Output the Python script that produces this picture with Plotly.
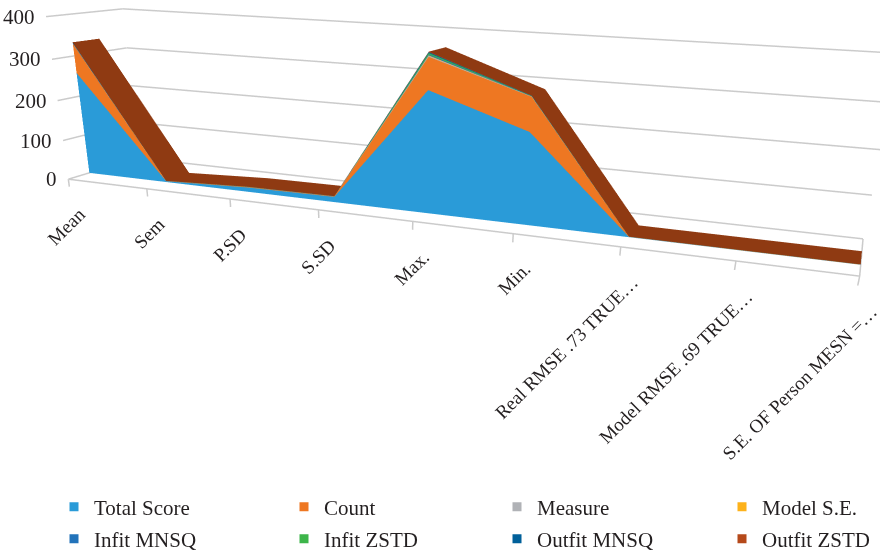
import plotly.graph_objects as go

categories = ["Mean", "Sem", "P.SD", "S.SD", "Max.", "Min.",
              "Real RMSE .73 TRUE…", "Model RMSE .69 TRUE…", "S.E. OF Person MESN =…"]
z_ticks = [0, 100, 200, 300, 400]

total_score = [258, 2, 11, 13, 284, 211, 0.5, 0.3, 0.2]
count = [72, 0.5, 1, 1, 72, 76, 0.2, 0.2, 0.2]
measure = [0.5, 0.2, 0.2, 0.2, 2, 0.5, 0.1, 0.1, 0.1]
model_se = [0.3, 0.1, 0.1, 0.1, 1, 0.3, 0.1, 0.1, 0.1]
infit_mnsq = [1, 0.1, 0.2, 0.2, 2, 0.5, 0.1, 0.1, 0.1]
infit_zstd = [0.2, 0.1, 0.2, 0.2, 3, 0.5, 0.1, 0.1, 0.1]
outfit_mnsq = [1, 0.1, 0.2, 0.2, 2, 0.5, 0.1, 0.1, 0.1]
outfit_zstd = [0.2, 0.1, 0.2, 0.2, 1, 0.5, 0.1, 0.1, 0.1]

series = [("Total Score", total_score, "#2a9bd8"), ("Count", count, "#ee7722"),
          ("Measure", measure, "#b0b2b6"), ("Model S.E.", model_se, "#fdb21b"),
          ("Infit MNSQ", infit_mnsq, "#2273ba"), ("Infit ZSTD", infit_zstd, "#3db54a"),
          ("Outfit MNSQ", outfit_mnsq, "#00609a"), ("Outfit ZSTD", outfit_zstd, "#b5491a")]

W, H = 880, 860
Y_FRONT, Y_BACK = 0.28, 0.63
TICK_DROP = -20
TOP_COLOR = "#8f3a12"
GRID = "#cbcbcb"
FONT = "Liberation Serif"
TEXT = "#231f20"
LIGHT = dict(ambient=1, diffuse=0, specular=0, fresnel=0, roughness=1)
LEG_X = [70, 300, 513, 738]
LEG_Y = [507, 539]
n = len(categories)
xs = list(range(n))
x_max = n - 1

def strip_mesh(ya, za, yb, zb, color):
    X, Y, Z, I, J, K = [], [], [], [], [], []
    for c in xs:
        X += [c, c]; Y += [ya, yb]; Z += [za[c], zb[c]]
    for c in xs[:-1]:
        p = 2 * c
        I += [p, p + 1]; J += [p + 1, p + 3]; K += [p + 2, p + 2]
    return go.Mesh3d(x=X, y=Y, z=Z, i=I, j=J, k=K, color=color, opacity=1, flatshading=True,
                     lighting=LIGHT, hoverinfo="skip", showlegend=False, showscale=False)

def rule(X, Y, Z):
    return go.Scatter3d(x=X, y=Y, z=Z, mode="lines", line=dict(color=GRID, width=3),
                        hoverinfo="skip", showlegend=False, connectgaps=False)

fig = go.Figure()
# walls' gridlines, floor edges and category ticks
for t in z_ticks:
    fig.add_trace(rule([0, 0, x_max], [0, 1, 1], [t, t, t]))
fig.add_trace(rule([0, x_max, x_max], [0, 0, 1], [0, 0, 0]))
for c in xs:
    fig.add_trace(rule([c, c], [0, 0], [0, TICK_DROP]))

lower = [0.0] * n
for name, vals, color in series:
    upper = [a + b for a, b in zip(lower, vals)]
    fig.add_trace(strip_mesh(Y_FRONT, lower, Y_FRONT, upper, color))
    lower = upper
fig.add_trace(strip_mesh(Y_FRONT, lower, Y_BACK, lower, TOP_COLOR))

legends = {}
for k, (name, vals, color) in enumerate(series):
    key = "legend" if k == 0 else f"legend{k + 1}"
    fig.add_trace(go.Scatter3d(x=[None], y=[None], z=[None], mode="markers", name=name, legend=key,
                               marker=dict(symbol="square", size=9, color=color),
                               hoverinfo="skip", showlegend=True))
    legends[key] = dict(x=(LEG_X[k % 4] - 16) / W, y=1 - LEG_Y[k // 4] / H, xanchor="left", yanchor="middle",
                        bgcolor="rgba(0,0,0,0)", font=dict(family=FONT, size=21, color=TEXT))

annots = []
for i, c in enumerate(categories):
    annots.append(dict(x=i, y=0, z=0, text=c, showarrow=False, textangle=-45, xanchor="right",
                       yanchor="top", xshift=24, yshift=-22,
                       font=dict(family=FONT, size=19, color=TEXT)))
for t in z_ticks:
    annots.append(dict(x=0, y=0, z=t, text=str(t), showarrow=False, xanchor="right",
                       xshift=-9, font=dict(family=FONT, size=21, color=TEXT)))

hidden = dict(visible=False, showspikes=False)
fig.update_layout(
    width=W, height=H, margin=dict(l=0, r=0, t=0, b=0), paper_bgcolor="white",
    font=dict(family=FONT, size=19, color=TEXT),
    scene=dict(
        domain=dict(x=[0, 1], y=[0, 1]),
        aspectmode="manual", aspectratio=dict(x=2.393, y=0.37, z=0.516),
        camera=dict(eye=dict(x=1.117, y=-2.868, z=0.533), center=dict(x=0.160, y=-0.351, z=-0.787),
                    up=dict(x=-0.177, y=0.403, z=0.897), projection=dict(type="perspective")),
        xaxis=dict(hidden, range=[0, x_max]),
        yaxis=dict(hidden, range=[0, 1]),
        zaxis=dict(hidden, range=[TICK_DROP, 405]),
        annotations=annots,
    ),
    **legends,
)
fig.write_html("out.html", config={"displayModeBar": False},
               post_script="document.body.style.margin='0';document.documentElement.style.overflow='hidden';")
